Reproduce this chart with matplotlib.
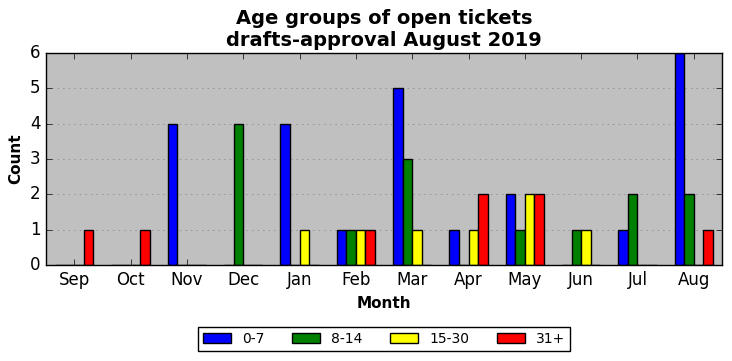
import matplotlib
matplotlib.use("Agg")
import matplotlib.pyplot as plt
import numpy as np

months = ["Sep", "Oct", "Nov", "Dec", "Jan", "Feb", "Mar", "Apr", "May", "Jun", "Jul", "Aug"]
series_names = ["0-7", "8-14", "15-30", "31+"]
v_0_7 = [0, 0, 4, 0, 4, 1, 5, 1, 2, 0, 1, 6]
v_8_14 = [0, 0, 0, 4, 0, 1, 3, 0, 1, 1, 2, 2]
v_15_30 = [0, 0, 0, 0, 1, 1, 1, 1, 2, 1, 0, 0]
v_31p = [1, 1, 0, 0, 0, 1, 0, 2, 2, 0, 0, 1]
colors = ["blue", "green", "yellow", "red"]

plt.style.use("classic")
fig = plt.figure(figsize=(7.32, 3.61), dpi=100)
ax = fig.add_axes([46/732, 1-265/361, 676/732, 212/361])
ax.set_facecolor("#c0c0c0")

x = np.arange(len(months))
w = 0.17
for i, (name, vals, c) in enumerate(zip(series_names, [v_0_7, v_8_14, v_15_30, v_31p], colors)):
    ax.bar(x + (i - 1.5) * w, vals, width=w, color=c, edgecolor="black", linewidth=1, label=name, align="center")

ax.set_xlim(-0.5, len(months) - 0.5)
ax.set_ylim(0, 6)
ax.set_xticks(x)
ax.set_xticklabels(months, fontsize=12)
ax.tick_params(axis="y", labelsize=12)
ax.yaxis.grid(True, linestyle=":", color="gray")
ax.set_axisbelow(True)
ax.set_xlabel("Month", fontsize=11, fontweight="bold")
ax.set_ylabel("Count", fontsize=11, fontweight="bold")
ax.set_title("Age groups of open tickets\ndrafts-approval August 2019", fontsize=14, fontweight="bold")
ax.legend(loc="upper center", bbox_to_anchor=(0.5, -0.26), ncol=4, fontsize=10, frameon=True, fancybox=False,
          handlelength=2, columnspacing=2.0, borderpad=0.35)
fig.savefig("out.png", dpi=100)
